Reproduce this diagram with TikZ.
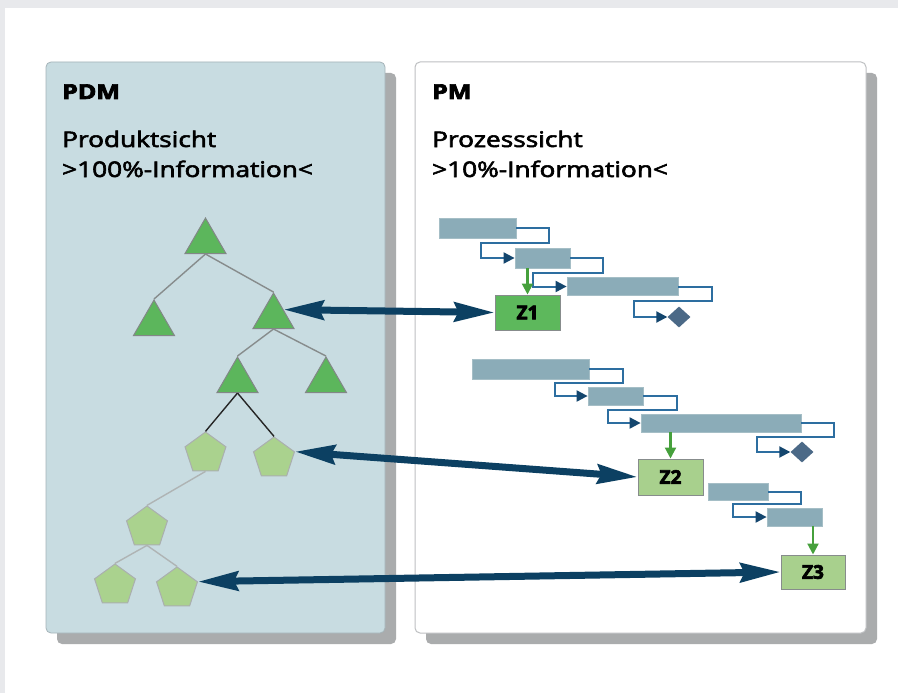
\documentclass[tikz,border=0pt]{standalone}
\usepackage{fontspec}
\setmainfont{Open Sans}
\newfontfamily\heavyfont[FakeBold=3.5]{Open Sans Bold}
\newfontfamily\titlefont[FakeBold=2.5]{Open Sans}
\usetikzlibrary{shapes.geometric,arrows.meta,calc}
\definecolor{pagegray}{RGB}{232,233,236}
\definecolor{shadowgray}{RGB}{170,172,173}
\definecolor{pdmfill}{RGB}{200,220,225}
\definecolor{pdmborder}{RGB}{165,180,185}
\definecolor{pmborder}{RGB}{190,192,194}
\definecolor{trigreen}{RGB}{92,182,92}
\definecolor{trigray}{RGB}{130,135,135}
\definecolor{pentgreen}{RGB}{170,210,142}
\definecolor{pentgray}{RGB}{170,175,175}
\definecolor{navy}{RGB}{12,64,98}
\definecolor{barfill}{RGB}{139,172,184}
\definecolor{barborder}{RGB}{165,190,198}
\definecolor{linkblue}{RGB}{45,110,160}
\definecolor{tipnavy}{RGB}{20,70,110}
\definecolor{msfill}{RGB}{75,105,135}
\definecolor{zdark}{RGB}{93,184,92}
\definecolor{zlight}{RGB}{168,208,141}
\definecolor{zborder}{RGB}{135,140,140}
\definecolor{gline}{RGB}{70,160,60}
\definecolor{treegray}{RGB}{135,140,140}
\definecolor{treelight}{RGB}{175,180,180}
\newcommand\widetext[1]{\scalebox{1.22}[1]{#1}}
\begin{document}
\begin{tikzpicture}[x=1pt,y=-1pt,
  headbold/.style={anchor=base west,inner sep=0,font=\heavyfont\fontsize{20.5}{24}\selectfont},
  title/.style={anchor=base west,inner sep=0,font=\titlefont\fontsize{21.5}{25}\selectfont},
  tri/.style={regular polygon,regular polygon sides=3,minimum size=47.3pt,inner sep=0,fill=trigreen,draw=trigray,line width=1pt},
  pent/.style={regular polygon,regular polygon sides=5,minimum size=43pt,inner sep=0,fill=pentgreen,draw=pentgray,line width=1pt},
  treeline/.style={draw=treegray,line width=1.4pt},
  treeblack/.style={draw=black!85,line width=1.4pt},
  treelightline/.style={draw=treelight,line width=1.4pt},
  bigarrow/.style={draw=navy,line width=7pt,{Stealth[length=40pt,width=19pt,inset=4pt]}-{Stealth[length=40pt,width=19pt,inset=4pt]}},
  bar/.style={rectangle,fill=barfill,draw=barborder,line width=0.8pt,inner sep=0},
  link/.style={draw=linkblue,line width=2pt,-{Triangle[length=11pt,width=11pt,color=tipnavy]}},
  milestone/.style={diamond,fill=msfill,minimum width=23pt,minimum height=21pt,inner sep=0},
  zbox/.style={rectangle,draw=zborder,line width=1pt,inner sep=0,font=\heavyfont\fontsize{19}{20}\selectfont},
  garrow/.style={draw=gline,line width=2.2pt,-{Triangle[length=11pt,width=11pt]}}
]
\useasboundingbox (0,0) rectangle (898,693);
\fill[pagegray] (0,0) rectangle (898,693);
\fill[white] (5,8) rectangle (898,693);
% panels
\fill[shadowgray,rounded corners=5pt] (57,73) rectangle (396,644);
\draw[fill=pdmfill,draw=pdmborder,line width=0.8pt,rounded corners=5pt] (46,62) rectangle (385,633);
\fill[shadowgray,rounded corners=5pt] (426,73) rectangle (877,644);
\draw[fill=white,draw=pmborder,line width=1pt,rounded corners=5pt] (415,62) rectangle (866,633);
% titles
\node[headbold] (pdm) at (62,99) {\widetext{PDM}};
\node[title] (pdm1) at (62,147) {\widetext{Produktsicht}};
\node[title] (pdm2) at (62,177) {\widetext{>100\%-Information<}};
\node[headbold] (pm) at (432,99) {\widetext{PM}};
\node[title] (pm1) at (432,147) {\widetext{Prozesssicht}};
\node[title] (pm2) at (432,177) {\widetext{>10\%-Information<}};
% tree
\node[tri] (T1) at (205.5,241.7) {};
\node[tri] (T2) at (154,323.7) {};
\node[tri] (T3) at (273.5,316.7) {};
\node[tri] (T4) at (237.5,380.7) {};
\node[tri] (T5) at (326,380.7) {};
\node[pent] (P1) at (205.5,453.5) {};
\node[pent] (P2) at (274,458.5) {};
\node[pent] (P3) at (147,527.5) {};
\node[pent] (P4) at (115,585.5) {};
\node[pent] (P5) at (177,588.5) {};
\draw[treeline] (T1.south) -- (T2.north);
\draw[treeline] (T1.south) -- (T3.north);
\draw[treeline] (T3.south) -- (T4.north);
\draw[treeline] (T3.south) -- (T5.north);
\draw[treeblack] (T4.south) -- (P1.north);
\draw[treeblack] (T4.south) -- (P2.north);
\draw[treelightline] (P1.south) -- (P3.north);
\draw[treelightline] (P3.south) -- (P4.north);
\draw[treelightline] (P3.south) -- (P5.north);
% gantt bars
\node[bar,minimum width=77pt,minimum height=20pt] (B1) at (477.5,228) {};
\node[bar,minimum width=55pt,minimum height=20pt] (B2) at (542.5,258) {};
\node[bar,minimum width=111pt,minimum height=18pt] (B3) at (622.5,286.5) {};
\node[milestone] (D1) at (679,317) {};
\node[bar,minimum width=117pt,minimum height=20pt] (B4) at (530.5,369) {};
\node[bar,minimum width=55pt,minimum height=18pt] (B5) at (615.5,396) {};
\node[bar,minimum width=160pt,minimum height=18pt] (B6) at (721,423) {};
\node[milestone] (D2) at (802,452) {};
\node[bar,minimum width=60pt,minimum height=17pt] (B7) at (738,491.5) {};
\node[bar,minimum width=55pt,minimum height=18pt] (B8) at (794.5,517) {};
% links
\draw[link] (B1.east) -- ++(33,0) -- ++(0,15) -| ([xshift=-34pt]B2.west) -- (B2.west);
\draw[link] (B2.east) -- ++(33,0) -- ++(0,15) -| ([xshift=-34pt]B3.west) -- (B3.west);
\draw[link] (B3.east) -- ++(34,0) -- ++(0,14) -| ([xshift=-33pt]D1.west) -- (D1.west);
\draw[link] (B4.east) -- ++(34,0) -- ++(0,14) -| ([xshift=-33pt]B5.west) -- (B5.west);
\draw[link] (B5.east) -- ++(34,0) -- ++(0,14) -| ([xshift=-33pt]B6.west) -- (B6.west);
\draw[link] (B6.east) -- ++(33,0) -- ++(0,14) -| ([xshift=-33pt]D2.west) -- (D2.west);
\draw[link] (B7.east) -- ++(33,0) -- ++(0,12) -| ([xshift=-34pt]B8.west) -- (B8.west);
% milestones Z
\node[zbox,fill=zdark,minimum width=65pt,minimum height=35pt] (Z1) at (527.5,312.5) {Z1};
\node[zbox,fill=zlight,minimum width=65pt,minimum height=36pt] (Z2) at (670.5,477) {Z2};
\node[zbox,fill=zlight,minimum width=64pt,minimum height=34pt] (Z3) at (813,572) {Z3};
\draw[garrow] (Z1.north |- B2.south) -- (Z1.north);
\draw[garrow] (Z2.north |- B6.south) -- (Z2.north);
\draw[garrow] (Z3.north |- B8.south) -- (Z3.north);
% big arrows
\draw[bigarrow] (T3.35) -- (Z1.west);
\draw[bigarrow] (P2.corner 5) -- (Z2.west);
\draw[bigarrow] (P5.corner 5) -- (Z3.west);
\end{tikzpicture}
\end{document}
